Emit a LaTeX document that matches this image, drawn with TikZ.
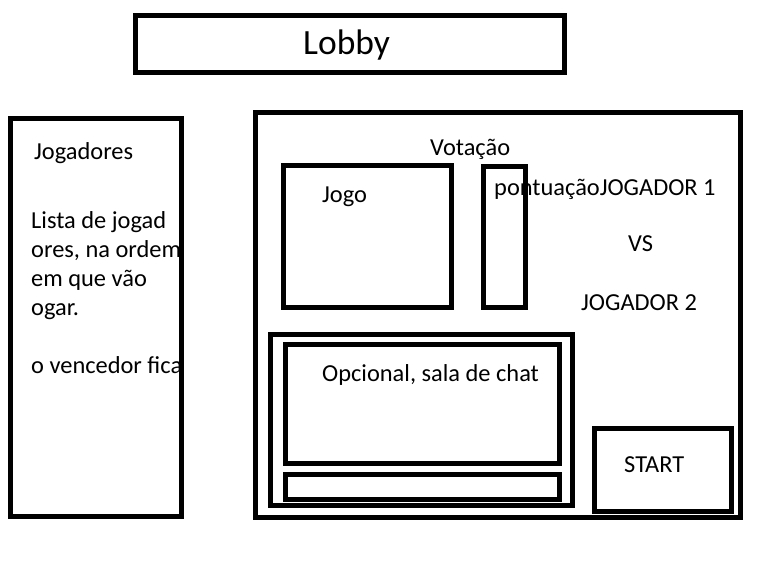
\documentclass[tikz,border=0pt]{standalone}
\usepackage{fontspec}
\setmainfont{Carlito}
\begin{document}
\begin{tikzpicture}[x=1pt,y=-1pt,
  box/.style={draw=black,line width=5pt,rectangle,inner sep=0pt},
  lbl/.style={anchor=base west,inner sep=0pt,font=\fontsize{24.4}{29}\selectfont},
  bigl/.style={anchor=base west,inner sep=0pt,font=\fontsize{35.5}{42}\selectfont}]
\useasboundingbox (0,0) rectangle (779,562);
\fill[white] (0,0) rectangle (779,562);
% boxes
\node[box,minimum width=429pt,minimum height=56.5pt] (lobby) at (350,43.75) {};
\node[box,minimum width=171pt,minimum height=398.5pt] (players) at (95.5,317.25) {};
\node[box,minimum width=485pt,minimum height=405.5pt] (main) at (497.5,314.75) {};
\node[box,minimum width=167.7pt,minimum height=142.3pt] (game) at (367.2,236.6) {};
\node[box,minimum width=42pt,minimum height=141.8pt] (score) at (504,236.9) {};
\node[box,minimum width=302.5pt,minimum height=171.3pt] (chatouter) at (421.25,420.15) {};
\node[box,minimum width=273.7pt,minimum height=118.5pt] (chatinner) at (422.15,403.75) {};
\node[box,minimum width=273.7pt,minimum height=25pt] (input) at (422.15,486.5) {};
\node[box,minimum width=137pt,minimum height=83pt] (start) at (662.5,469.5) {};
% texts
\node[bigl] (tlobby) at (303,54.5) {Lobby};
\node[lbl] (tjog) at (34,159) {Jogadores};
\node[lbl] (tlista) at (31,228) {Lista de jogad};
\node[lbl] (tl2) at (31,257) {ores, na ordem};
\node[lbl] (tl3) at (31,286) {em que vão};
\node[lbl] (tl4) at (31,315) {ogar.};
\node[lbl] (tl5) at (31,373) {o vencedor fica};
\node[lbl] (tvot) at (430,155) {Votação};
\node[lbl] (tjogo) at (322,202) {Jogo};
\node[lbl] (tpont) at (494,195) {pontuaçãoJOGADOR 1};
\node[lbl] (tvs) at (628,251) {VS};
\node[lbl] (tj2) at (581,310) {JOGADOR 2};
\node[lbl] (tchat) at (322,381) {Opcional, sala de chat};
\node[lbl] (tstart) at (624,472) {START};
\end{tikzpicture}
\end{document}
